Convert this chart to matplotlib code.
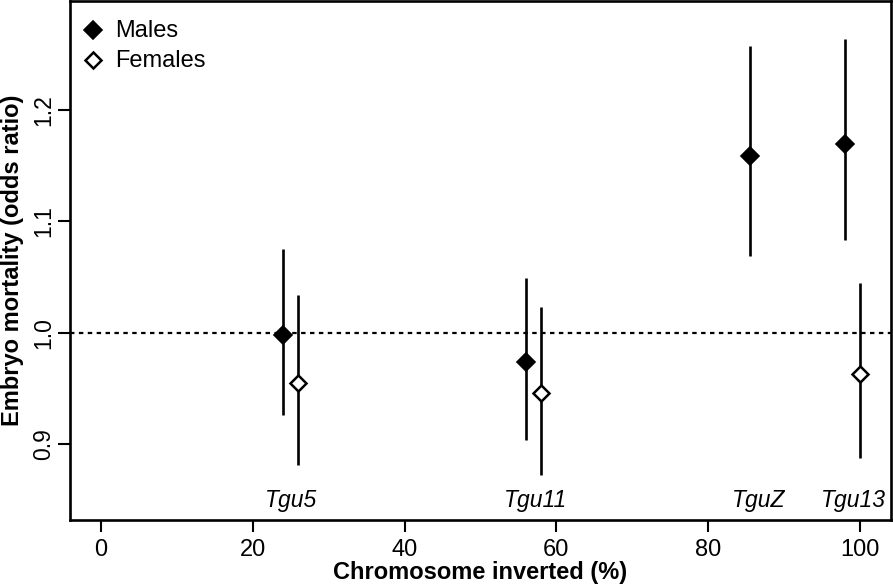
import matplotlib
matplotlib.use("Agg")
import matplotlib.pyplot as plt

plt.rcParams['font.family'] = ['Liberation Sans', 'DejaVu Sans']

# Data
male_x = [24, 56, 85.5, 98]
male_or = [0.998, 0.974, 1.159, 1.169]
male_lo = [0.926, 0.904, 1.069, 1.083]
male_hi = [1.075, 1.049, 1.257, 1.263]

female_x = [26, 58, 100]
female_or = [0.955, 0.946, 0.963]
female_lo = [0.882, 0.873, 0.888]
female_hi = [1.034, 1.023, 1.045]

chrom_labels = ["Tgu5", "Tgu11", "TguZ", "Tgu13"]
chrom_label_x = [25, 57.3, 86.6, 99.1]
chrom_label_y = 0.85

legend_labels = ["Males", "Females"]

xticks = [0, 20, 40, 60, 80, 100]
yticks = [0.9, 1.0, 1.1, 1.2]
ytick_labels = ["0.9", "1.0", "1.1", "1.2"]

W, H = 893, 586
fig = plt.figure(figsize=(W / 100, H / 100), dpi=100)
ax = fig.add_axes([70 / W, (H - 520) / H, 821 / W, 519 / H])

ax.set_xlim(-4.08, 104.1)
ax.set_ylim(0.8323, 1.2975)

ax.axhline(1.0, color='black', lw=1.6, ls=(0, (2, 2)), zorder=1)

ax.vlines(male_x, male_lo, male_hi, color='black', lw=1.9, zorder=2)
ax.vlines(female_x, female_lo, female_hi, color='black', lw=1.9, zorder=2)
male_style = dict(ls='none', marker='D', ms=9.2, mfc='black', mec='black', mew=1.2)
female_style = dict(ls='none', marker='D', ms=8.2, mfc='white', mec='black', mew=1.8)
ax.plot(male_x, male_or, zorder=3, **male_style)
ax.plot(female_x, female_or, zorder=3, **female_style)

for lab, xl in zip(chrom_labels, chrom_label_x):
    ax.text(xl, chrom_label_y, lab, ha='center', va='center',
            fontsize=16.5, style='italic')

# legend (top-left, no frame)
ax.plot([0.0276], [0.944], transform=ax.transAxes, clip_on=False, **male_style)
ax.plot([0.0276], [0.886], transform=ax.transAxes, clip_on=False, **female_style)
ax.text(0.0548, 0.942, legend_labels[0], transform=ax.transAxes,
        fontsize=17, va='center', ha='left')
ax.text(0.0548, 0.884, legend_labels[1], transform=ax.transAxes,
        fontsize=17, va='center', ha='left')

ax.set_xticks(xticks)
ax.set_xticklabels([str(t) for t in xticks], fontsize=17)
ax.set_yticks(yticks)
ax.set_yticklabels(ytick_labels, fontsize=16.5, rotation=90, va='center')
ax.tick_params(axis='both', direction='out', length=8.5, width=1.5, color='black')
ax.tick_params(axis='x', pad=5)
ax.tick_params(axis='y', pad=2)

for s in ax.spines.values():
    s.set_linewidth(1.9)

ax.set_xlabel("Chromosome inverted (%)", fontsize=17, fontweight='bold', labelpad=0)
ax.set_ylabel("Embryo mortality (odds ratio)", fontsize=17, fontweight='bold', labelpad=6)

fig.savefig("out.png", dpi=100)
